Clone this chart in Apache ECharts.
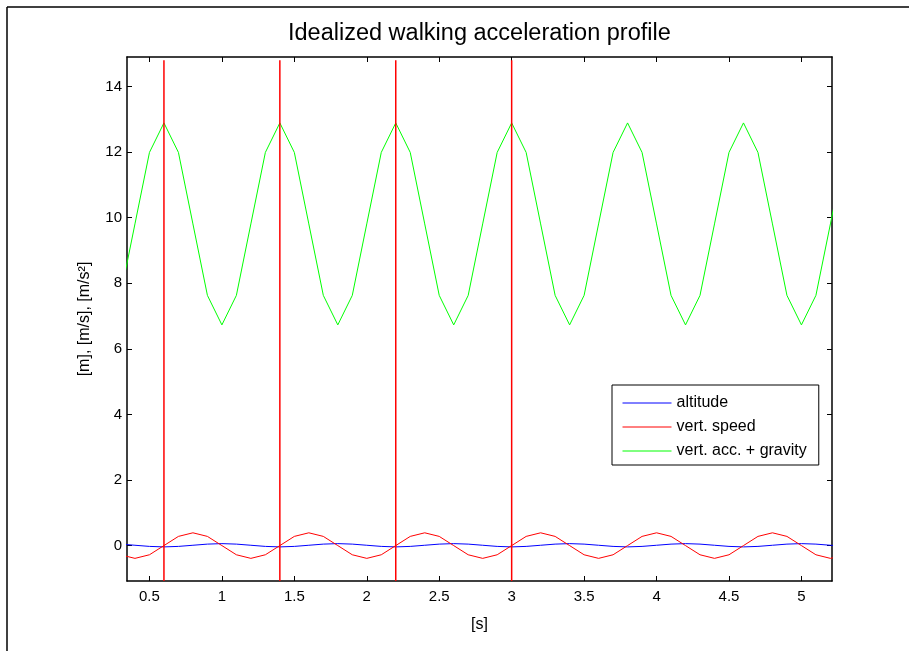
<!DOCTYPE html>
<html>
<head>
<meta charset="utf-8">
<title>Idealized walking acceleration profile</title>
<script src="https://cdn.jsdelivr.net/npm/echarts@6/dist/echarts.min.js"></script>
<style>
  html, body { margin: 0; padding: 0; background: #fff; }
  #chart { width: 909px; height: 651px; }
</style>
</head>
<body>
<div id="chart"></div>
<script>
// Sample times [s]
const timeS = [0.3, 0.4, 0.5, 0.6, 0.7, 0.8, 0.9, 1.0, 1.1, 1.2, 1.3, 1.4, 1.5, 1.6, 1.7, 1.8, 1.9,
  2.0, 2.1, 2.2, 2.3, 2.4, 2.5, 2.6, 2.7, 2.8, 2.9, 3.0, 3.1, 3.2, 3.3, 3.4, 3.5, 3.6, 3.7, 3.8,
  3.9, 4.0, 4.1, 4.2, 4.3, 4.4, 4.5, 4.6, 4.7, 4.8, 4.9, 5.0, 5.1, 5.2, 5.3];

// Altitude [m]
const altitude = [0.045, 0.01, -0.025,
  -0.04, -0.025, 0.01, 0.045, 0.06, 0.045, 0.01, -0.025,
  -0.04, -0.025, 0.01, 0.045, 0.06, 0.045, 0.01, -0.025,
  -0.04, -0.025, 0.01, 0.045, 0.06, 0.045, 0.01, -0.025,
  -0.04, -0.025, 0.01, 0.045, 0.06, 0.045, 0.01, -0.025,
  -0.04, -0.025, 0.01, 0.045, 0.06, 0.045, 0.01, -0.025,
  -0.04, -0.025, 0.01, 0.045, 0.06, 0.045, 0.01, -0.025];

// Vertical speed [m/s]
const vertSpeed = [-0.28, -0.39, -0.28,
  0, 0.28, 0.39, 0.28, 0, -0.28, -0.39, -0.28,
  0, 0.28, 0.39, 0.28, 0, -0.28, -0.39, -0.28,
  0, 0.28, 0.39, 0.28, 0, -0.28, -0.39, -0.28,
  0, 0.28, 0.39, 0.28, 0, -0.28, -0.39, -0.28,
  0, 0.28, 0.39, 0.28, 0, -0.28, -0.39, -0.28,
  0, 0.28, 0.39, 0.28, 0, -0.28, -0.39, -0.28];

// Vertical acceleration plus gravity [m/s²]
const vertAcc = [7.63, 9.81, 11.99,
  12.89, 11.99, 9.81, 7.63, 6.73, 7.63, 9.81, 11.99,
  12.89, 11.99, 9.81, 7.63, 6.73, 7.63, 9.81, 11.99,
  12.89, 11.99, 9.81, 7.63, 6.73, 7.63, 9.81, 11.99,
  12.89, 11.99, 9.81, 7.63, 6.73, 7.63, 9.81, 11.99,
  12.89, 11.99, 9.81, 7.63, 6.73, 7.63, 9.81, 11.99,
  12.89, 11.99, 9.81, 7.63, 6.73, 7.63, 9.81, 11.99];

// Detected step instants [s] and the height of their marker lines
const stepTimes = [0.6, 1.4, 2.2, 3.0];
const stepMarkerTop = 14.8;

// Axis limits and tick positions
const xLimits = [0.345, 5.211];
const yLimits = [-1.08, 14.9];
const xTicks = [0.5, 1, 1.5, 2, 2.5, 3, 3.5, 4, 4.5, 5];
const yTicks = [0, 2, 4, 6, 8, 10, 12, 14];

const seriesNames = ['altitude', 'vert. speed', 'vert. acc. + gravity'];
const seriesColors = ['#0000ff', '#ff0000', '#00ff00'];
const seriesValues = [altitude, vertSpeed, vertAcc];

const FONT = '"Liberation Sans", Arial, Helvetica, sans-serif';

const chart = echarts.init(document.getElementById('chart'), null, { renderer: 'canvas' });

const axisLineStyle = { color: '#000', width: 1.5 };

function xAxisDef(position, withLabels) {
  return {
    type: 'value',
    position: position,
    min: xLimits[0],
    max: xLimits[1],
    axisLine: { show: true, onZero: false, lineStyle: axisLineStyle },
    axisTick: { show: true, inside: true, length: 5, customValues: xTicks, lineStyle: { color: '#000', width: 1 } },
    axisLabel: {
      show: withLabels, customValues: xTicks, margin: 8,
      color: '#000', fontSize: 15, fontFamily: FONT,
      formatter: v => String(v)
    },
    splitLine: { show: false },
    name: withLabels ? '[s]' : '',
    nameLocation: 'middle',
    nameGap: 36,
    nameTextStyle: { color: '#000', fontSize: 16, fontFamily: FONT }
  };
}

function yAxisDef(position, withLabels) {
  return {
    type: 'value',
    position: position,
    min: yLimits[0],
    max: yLimits[1],
    axisLine: { show: true, onZero: false, lineStyle: axisLineStyle },
    axisTick: { show: true, inside: true, length: 5, customValues: yTicks, lineStyle: { color: '#000', width: 1 } },
    axisLabel: {
      show: withLabels, customValues: yTicks, margin: 5,
      color: '#000', fontSize: 15, fontFamily: FONT,
      formatter: v => String(v)
    },
    splitLine: { show: false },
    name: withLabels ? '[m], [m/s], [m/s²]' : '',
    nameLocation: 'middle',
    nameRotate: 90,
    nameGap: 34,
    nameTextStyle: { color: '#000', fontSize: 16, fontFamily: FONT }
  };
}

const dataSeries = seriesNames.map((name, i) => ({
  name: name,
  type: 'line',
  xAxisIndex: 0,
  yAxisIndex: 0,
  data: timeS.map((t, k) => [t, seriesValues[i][k]]),
  symbol: 'none',
  showSymbol: false,
  lineStyle: { color: seriesColors[i], width: 1 },
  itemStyle: { color: seriesColors[i] },
  clip: true,
  animation: false,
  z: 3
}));

const stepSeries = stepTimes.map((t, i) => ({
  name: 'step ' + (i + 1),
  type: 'line',
  xAxisIndex: 0,
  yAxisIndex: 0,
  data: [[t, yLimits[0]], [t, stepMarkerTop]],
  symbol: 'none',
  lineStyle: { color: '#ff0000', width: 1.5 },
  clip: true,
  animation: false,
  z: 4
}));

chart.setOption({
  animation: false,
  backgroundColor: '#ffffff',
  title: {
    text: 'Idealized walking acceleration profile',
    left: 288,
    top: 22,
    padding: 0,
    textStyle: { color: '#000', fontSize: 23.5, fontWeight: 'normal', fontFamily: FONT }
  },
  grid: { left: 127, top: 57, width: 705, height: 524, containLabel: false },
  xAxis: [xAxisDef('bottom', true), xAxisDef('top', false)],
  yAxis: [yAxisDef('left', true), yAxisDef('right', false)],
  legend: {
    data: seriesNames,
    orient: 'vertical',
    left: 612,
    top: 385,
    padding: [10, 12, 6, 10],
    itemWidth: 49,
    itemHeight: 14,
    itemGap: 8,
    borderColor: '#000',
    borderWidth: 1,
    backgroundColor: '#fff',
    selectedMode: false,
    itemStyle: { opacity: 0 },
    lineStyle: { width: 1 },
    textStyle: { color: '#000', fontSize: 16, fontFamily: FONT }
  },
  series: dataSeries.concat(stepSeries),
  graphic: [
    // figure frame edges along the top and left
    { type: 'line', shape: { x1: 7, y1: 7, x2: 909, y2: 7 }, style: { stroke: '#000', lineWidth: 1.5 }, silent: true },
    { type: 'line', shape: { x1: 7, y1: 7, x2: 7, y2: 651 }, style: { stroke: '#000', lineWidth: 1.5 }, silent: true }
  ]
});
</script>
</body>
</html>
